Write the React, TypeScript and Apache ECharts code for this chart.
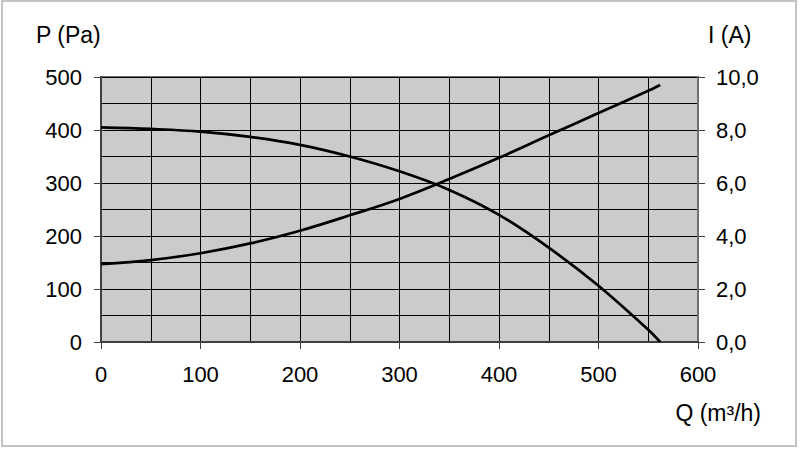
import React, { useEffect, useRef } from "react";
import * as echarts from "echarts";

const flowValues = [0, 50, 100, 150, 200, 250, 300, 350, 400, 450, 500, 550, 562];
const pressureValues = [405, 402, 397, 387, 372, 350, 322, 287, 240, 178, 106, 23, 0];
const currentValues = [2.94, 3.09, 3.35, 3.72, 4.2, 4.78, 5.4, 6.15, 6.95, 7.8, 8.64, 9.48, 9.7];

const FONT = "Liberation Sans, Arial, sans-serif";

export default function App() {
  const ref = useRef<HTMLDivElement>(null);

  useEffect(() => {
    if (!ref.current) return;
    const chart = echarts.init(ref.current, null, { renderer: "svg" });
    const labelStyle = { color: "#000", fontFamily: FONT, fontSize: 22 };
    const titleStyle = (text: string, x: number, y: number, align: string) => ({
      type: "text",
      x,
      y,
      silent: true,
      style: {
        text,
        font: `23px ${FONT}`,
        fill: "#000",
        textAlign: align,
        align,
        textVerticalAlign: "middle",
        verticalAlign: "middle",
      },
    });
    const option: any = {
      animation: false,
      backgroundColor: "#fff",
      grid: {
        left: 101,
        right: 102,
        top: 77,
        bottom: 108,
        show: true,
        backgroundColor: "#cbcbcb",
        borderColor: "#707070",
        borderWidth: 2,
      },
      xAxis: {
        type: "value",
        min: 0,
        max: 600,
        interval: 100,
        axisLine: { show: true, onZero: false, lineStyle: { color: "#404040", width: 2 } },
        axisTick: { show: true, length: 7, lineStyle: { color: "#404040", width: 1 } },
        axisLabel: { ...labelStyle, margin: 21 },
        splitLine: { show: true, lineStyle: { color: "#000", width: 1 } },
        minorTick: { show: false, splitNumber: 2 },
        minorSplitLine: { show: true, lineStyle: { color: "#000", width: 1 } },
      },
      yAxis: [
        {
          type: "value",
          min: 0,
          max: 500,
          interval: 100,
          position: "left",
          axisLine: { show: true, lineStyle: { color: "#404040", width: 2 } },
          axisTick: { show: true, length: 7, lineStyle: { color: "#404040", width: 1 } },
          axisLabel: { ...labelStyle, margin: 19 },
          splitLine: { show: true, lineStyle: { color: "#000", width: 1 } },
          minorTick: { show: false, splitNumber: 2 },
          minorSplitLine: { show: true, lineStyle: { color: "#000", width: 1 } },
        },
        {
          type: "value",
          min: 0,
          max: 10,
          interval: 2,
          position: "right",
          axisLine: { show: true, lineStyle: { color: "#707070", width: 2 } },
          axisTick: { show: true, length: 7, lineStyle: { color: "#404040", width: 1 } },
          axisLabel: {
            ...labelStyle,
            margin: 18,
            formatter: (v: number) => v.toFixed(1).replace(".", ","),
          },
          splitLine: { show: false },
        },
      ],
      series: [
        {
          type: "line",
          name: "P",
          yAxisIndex: 0,
          smooth: 0.35,
          symbol: "none",
          lineStyle: { color: "#000", width: 2.7 },
          data: flowValues.map((q, i) => [q, pressureValues[i]]),
        },
        {
          type: "line",
          name: "I",
          yAxisIndex: 1,
          smooth: 0.35,
          symbol: "none",
          lineStyle: { color: "#000", width: 2.7 },
          data: flowValues.map((q, i) => [q, currentValues[i]]),
        },
      ],
      graphic: [
        {
          type: "rect",
          silent: true,
          shape: { x: 2, y: 1, width: 794, height: 445 },
          style: { fill: "none", stroke: "#c4c4c4", lineWidth: 2 },
        },
        titleStyle("P (Pa)", 36, 35, "left"),
        titleStyle("I (A)", 708, 35, "left"),
        titleStyle("Q (m³/h)", 761, 413, "right"),
      ],
    };
    chart.setOption(option);
    return () => chart.dispose();
  }, []);

  return (
    <div
      ref={ref}
      style={{ position: "absolute", left: 0, top: 0, width: 800, height: 450, background: "#fff" }}
    />
  );
}
